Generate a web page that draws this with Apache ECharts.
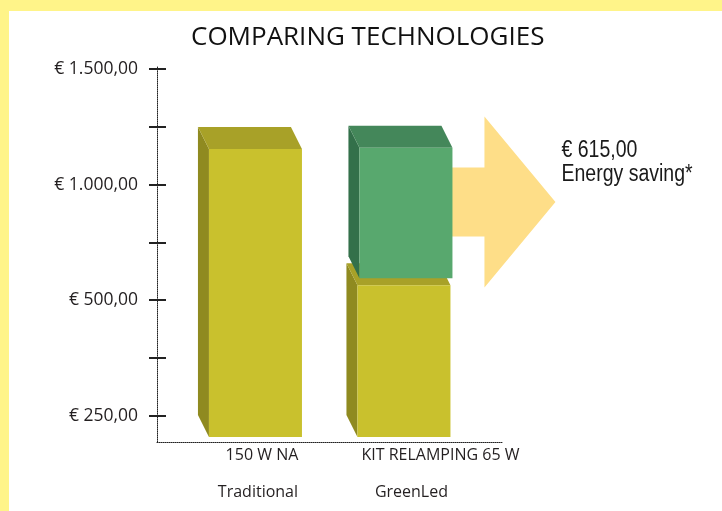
<!DOCTYPE html>
<html><head><meta charset="utf-8">
<script src="https://cdn.jsdelivr.net/npm/echarts@6/dist/echarts.min.js"></script>
<style>
html,body{margin:0;padding:0;}
#chart{width:722px;height:511px;background:linear-gradient(#fff489,#fff489) 0 0/100% 11px no-repeat,linear-gradient(#fff489,#fff489) 0 0/9px 100% no-repeat,#ffffff;}
</style></head><body><div id="chart"></div>
<script>
const categories = ['150 W NA', 'KIT RELAMPING 65 W'];
const technologies = ['Traditional', 'GreenLed'];
const energyCost = [1155, 565];
const savingCost = [0, 595];
const savingText = ['€ 615,00', 'Energy saving*'];
const yTickValues = [0, 250, 500, 750, 1000, 1250, 1500];
const yLabelValues = [0, 500, 1000, 1500];
const yLabelTexts = ['€ 250,00', '€ 500,00', '€ 1.000,00', '€ 1.500,00'];

const DX = -11, DY = -22, HALF = 46.5, LIFT = 5, GAP = 7;
const yellow = {front:'#c9c12d', top:'#a8a128', side:'#8f8a20'};
const green = {front:'#58a86e', top:'#44875a', side:'#33704a'};

function box(x0, x1, yTop, yBot, c) {
  return [
    {type:'polygon', shape:{points:[[x0,yTop],[x0+DX,yTop+DY],[x0+DX,yBot+DY],[x0,yBot]]}, style:{fill:c.side}},
    {type:'polygon', shape:{points:[[x0,yTop],[x0+DX,yTop+DY],[x1+DX,yTop+DY],[x1,yTop]]}, style:{fill:c.top}},
    {type:'rect', shape:{x:x0,y:yTop,width:x1-x0,height:yBot-yTop}, style:{fill:c.front}}
  ];
}

function renderItem(params, api) {
  const i = api.value(0);
  const cost = api.value(1);
  const save = api.value(2);
  const cs = params.coordSys;
  const cx = api.coord([i, 0])[0];
  const x0 = cx - HALF, x1 = cx + HALF;
  const yBot = cs.y + cs.height - LIFT;
  const yTop = api.coord([i, cost])[1];
  let children = [];
  if (save > 0) {
    const gBot = yTop - GAP;
    const gTop = api.coord([i, cost + save])[1];
    const cy = (gTop + DY + gBot) / 2;
    const bx0 = x1 - 4, bx1 = x1 + 34, tip = x1 + 105;
    children.push({type:'polygon', shape:{points:[[bx0,cy-34.5],[bx1,cy-34.5],[bx1,cy-85.5],[tip,cy],[bx1,cy+85.5],[bx1,cy+34.5],[bx0,cy+34.5]]}, style:{fill:'#fede88'}});
    children.push({type:'text', x:tip+6, y:cy-39.5, scaleX:0.83, scaleY:1,
      style:{text:savingText.join('\n'), x:0, y:0, verticalAlign:'middle', align:'left', font:'23.5px "Liberation Sans", Arial, sans-serif', lineHeight:24, fill:'#1a1a1a'}});
    children = children.concat(box(x0, x1, yTop, yBot, yellow));
    children = children.concat(box(x0 + 2, x1 + 2, gTop, gBot, green));
  } else {
    children = children.concat(box(x0, x1, yTop, yBot, yellow));
  }
  return {type:'group', children};
}

const XMIN = -0.663, XMAX = 1.667, YMIN = -114, YMAX = 1514;
const labelFont = {fontFamily:'Open Sans', fontSize:16, color:'#231f20'};
const chart = echarts.init(document.getElementById('chart'));
chart.setOption({
  animation:false,
  title:{text:'COMPARING TECHNOLOGIES', left:191, top:25, padding:0, textStyle:{fontFamily:'Open Sans', fontSize:26, fontWeight:'normal', color:'#111'}},
  grid:{left:157, right:219, top:66, bottom:69},
  xAxis:[
    {type:'value', min:XMIN, max:XMAX, position:'bottom',
     axisLine:{show:true, onZero:false, lineStyle:{color:'#222', type:'dotted', width:1}},
     axisTick:{show:false}, splitLine:{show:false},
     axisLabel:{customValues:[0,1], margin:5, formatter:v=>{const k=Math.round(v);return '{c'+k+'|'+categories[k]+'}';},
       rich:{c0:Object.assign({padding:[0,0,0,13]},labelFont), c1:Object.assign({padding:[0,0,0,73]},labelFont)}}},
    {type:'value', min:XMIN, max:XMAX, position:'bottom', offset:0,
     axisLine:{show:false, onZero:false}, axisTick:{show:false}, splitLine:{show:false},
     axisLabel:{customValues:[0,1], margin:42, formatter:v=>{const k=Math.round(v);return '{t'+k+'|'+technologies[k]+'}';},
       rich:{t0:Object.assign({padding:[0,0,0,5]},labelFont), t1:Object.assign({padding:[0,0,0,15]},labelFont)}}}
  ],
  yAxis:[
    {type:'value', min:YMIN, max:YMAX, position:'left',
     axisLine:{show:true, onZero:false, lineStyle:{color:'#222', type:'dotted', width:1}},
     axisTick:{show:true, customValues:yTickValues, length:8, lineStyle:{color:'#222', width:2}},
     axisLabel:{customValues:yLabelValues, margin:19, fontFamily:'Open Sans', fontSize:17.5, color:'#231f20',
       formatter:v=>yLabelTexts[yLabelValues.indexOf(Math.round(v))]},
     splitLine:{show:false}},
    {type:'value', min:YMIN, max:YMAX, position:'left', offset:0,
     axisLine:{show:false, onZero:false},
     axisTick:{show:true, inside:true, customValues:yTickValues, length:9, lineStyle:{color:'#222', width:2}},
     axisLabel:{show:false}, splitLine:{show:false}}
  ],
  series:[{type:'custom', xAxisIndex:0, yAxisIndex:0, renderItem, clip:false,
    data:categories.map((c,i)=>[i, energyCost[i], savingCost[i]])}]
});
</script></body></html>
